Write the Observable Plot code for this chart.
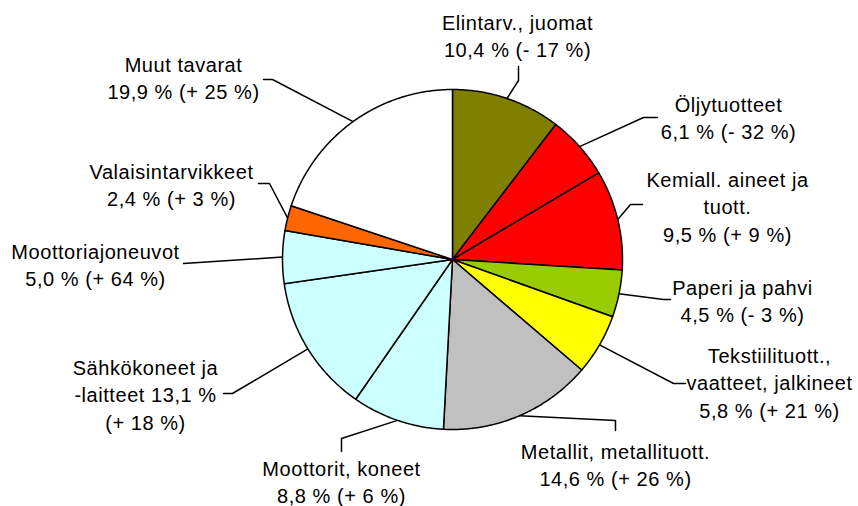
<!DOCTYPE html>
<html>
<head>
<meta charset="utf-8">
<script src="https://cdn.jsdelivr.net/npm/d3@7"></script>
<script src="https://cdn.jsdelivr.net/npm/@observablehq/plot@0.6"></script>
<style>
  html, body { margin: 0; padding: 0; background: #ffffff; }
  #chart { width: 858px; height: 506px; }
  #chart text { letter-spacing: 0.55px; }
</style>
</head>
<body>
<div id="chart"></div>
<script>
// ---- Data ----
const categories = [
  "Elintarv., juomat", "Öljytuotteet", "Kemiall. aineet ja\ntuott.", "Paperi ja pahvi",
  "Tekstiilituott.,\nvaatteet, jalkineet", "Metallit, metallituott.", "Moottorit, koneet",
  "Sähkökoneet ja\n-laitteet", "Moottoriajoneuvot", "Valaisintarvikkeet", "Muut tavarat"
];
const shares = [10.4, 6.1, 9.5, 4.5, 5.8, 14.6, 8.8, 13.1, 5.0, 2.4, 19.9];
const changes = [-17, -32, 9, -3, 21, 26, 6, 18, 64, 3, 25];
const colors = ["#808000", "#FF0000", "#FF0000", "#99CC00", "#FFFF00", "#C0C0C0",
                "#CCFFFF", "#CCFFFF", "#CCFFFF", "#FF6600", "#FFFFFF"];

// ---- Layout (pixel units) ----
const W = 858, H = 506;
const cx = 452, cy = 259, r = 170;
const labelPos = [[517, 34], [728, 116.5], [727, 205], [742, 299], [769, 381], [615, 463.5],
                  [341, 480.5], [145, 393], [95, 263], [171, 183.5], [183, 76.5]];
const leaderBends = [
  [[518, 80], [518, 66]], [[643, 117], [657, 117]], [[630, 204], [642, 204]],
  [[663, 299], [670, 299]], [[673, 383], [685, 383]], [[615, 420], [615, 430]],
  [[341, 438], [341, 451]], [[232, 393], [223, 393]], [[183, 263]],
  [[269, 183], [258, 183]], [[272, 79], [263, 79]]
];
// separator between name and share / share and change
const sepA = categories.map((c, i) => i === 7 ? " " : "\n");
const sepB = categories.map((c, i) => i === 7 ? "\n" : " ");

const fmtShare = v => v.toFixed(1).replace(".", ",") + " %";
const fmtChange = v => "(" + (v < 0 ? "- " : "+ ") + Math.abs(v) + " %)";

const total = d3.sum(shares);
const pt = a => ({x: cx + r * Math.sin(a), y: cy - r * Math.cos(a)});

const wedgePts = [];
const leaderPts = [];
const labels = [];
let cum = 0;
shares.forEach((s, i) => {
  const a0 = cum / total * 2 * Math.PI;
  cum += s;
  const a1 = cum / total * 2 * Math.PI;
  wedgePts.push({i, x: cx, y: cy, color: colors[i]});
  const n = Math.max(2, Math.ceil((a1 - a0) / (Math.PI / 360)));
  for (let k = 0; k <= n; k++) {
    const p = pt(a0 + (a1 - a0) * k / n);
    wedgePts.push({i, x: p.x, y: p.y, color: colors[i]});
  }
  const m = pt((a0 + a1) / 2);
  leaderPts.push({i, x: m.x, y: m.y});
  leaderBends[i].forEach(([x, y]) => leaderPts.push({i, x, y}));
  labels.push({
    x: labelPos[i][0], y: labelPos[i][1],
    text: categories[i] + sepA[i] + fmtShare(s) + sepB[i] + fmtChange(changes[i])
  });
});

const chart = Plot.plot({
  width: W, height: H,
  margin: 0,
  x: {domain: [0, W], range: [0, W], axis: null},
  y: {domain: [0, H], range: [0, H], axis: null},
  color: {type: "identity"},
  style: {fontFamily: "'Liberation Sans', Arial, sans-serif", background: "#ffffff"},
  marks: [
    Plot.line(leaderPts, {x: "x", y: "y", z: "i", stroke: "#000", strokeWidth: 1.5, curve: "linear"}),
    Plot.line(wedgePts, {x: "x", y: "y", z: "i", fill: "color", stroke: "#000", strokeWidth: 1.5,
                         strokeLinejoin: "round", curve: "linear-closed"}),
    Plot.text(labels, {x: "x", y: "y", text: "text", fontSize: 20, lineHeight: 1.37,
                       textAnchor: "middle", fill: "#000",
                       fontFamily: "'Liberation Sans', Arial, sans-serif"})
  ]
});
document.getElementById("chart").appendChild(chart);
</script>
</body>
</html>
